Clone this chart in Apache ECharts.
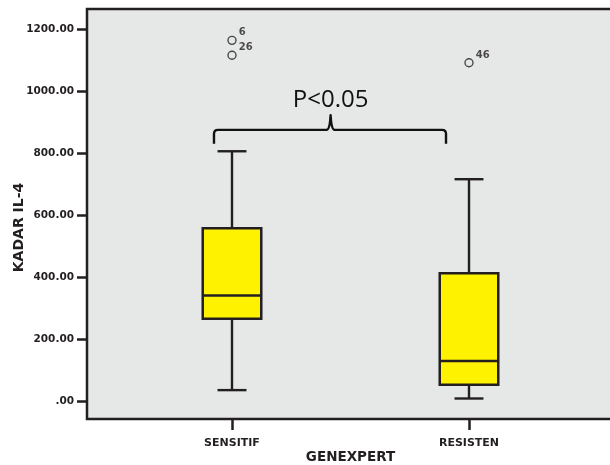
<!DOCTYPE html>
<html><head><meta charset="utf-8">
<script src="https://cdn.jsdelivr.net/npm/echarts@6/dist/echarts.min.js"></script>
<style>html,body{margin:0;padding:0;background:#fff}#c{width:610px;height:465px}</style>
</head><body><div id="c"></div>
<script>
// ---- data ----
const categories = ['SENSITIF', 'RESISTEN'];
// per category: [lower whisker, Q1, median, Q3, upper whisker]
const sensitifStats = [37, 267, 342, 558, 806];
const resistenStats = [10, 54, 131, 413, 716];
const outlierCategory = [0, 0, 1];
const outlierValues = [1163, 1115, 1091];
const outlierLabels = ['6', '26', '46'];
const yTickValues = [0, 200, 400, 600, 800, 1000, 1200];
const yTickLabels = ['.00', '200.00', '400.00', '600.00', '800.00', '1000.00', '1200.00'];
const annotationText = 'P<0.05';

// ---- styling ----
const INK = '#231f20';
const BG = '#e6e7e7';
const YELLOW = '#fff200';
const FONT = 'DejaVu Sans';
const yMin = -56, yMax = 1264;

const boxData = [sensitifStats, resistenStats].map((s, i) => [i].concat(s));
const outlierData = outlierValues.map((v, i) => [outlierCategory[i], v, outlierLabels[i]]);

function renderBox(params, api) {
  const idx = api.value(0);
  const lo = api.coord([idx, api.value(1)]);
  const q1 = api.coord([idx, api.value(2)]);
  const med = api.coord([idx, api.value(3)]);
  const q3 = api.coord([idx, api.value(4)]);
  const hi = api.coord([idx, api.value(5)]);
  const band = api.size([1, 0])[0];
  const bw = band * 0.247;
  const cw = band * 0.122;
  const x = lo[0];
  const ls = { stroke: INK, lineWidth: 2.4 };
  return {
    type: 'group',
    children: [
      { type: 'line', shape: { x1: x, y1: hi[1], x2: x, y2: q3[1] }, style: ls },
      { type: 'line', shape: { x1: x, y1: q1[1], x2: x, y2: lo[1] }, style: ls },
      { type: 'line', shape: { x1: x - cw / 2, y1: hi[1], x2: x + cw / 2, y2: hi[1] }, style: ls },
      { type: 'line', shape: { x1: x - cw / 2, y1: lo[1], x2: x + cw / 2, y2: lo[1] }, style: ls },
      { type: 'rect', shape: { x: x - bw / 2, y: q3[1], width: bw, height: q1[1] - q3[1] },
        style: { fill: YELLOW, stroke: INK, lineWidth: 2.5 } },
      { type: 'line', shape: { x1: x - bw / 2, y1: med[1], x2: x + bw / 2, y2: med[1] }, style: { stroke: INK, lineWidth: 2.5 } }
    ]
  };
}

function renderBracket(params, api) {
  const a = api.coord([0, 875]);
  const b = api.coord([1, 875]);
  const fx = t => a[0] + t * (b[0] - a[0]);
  const yLine = a[1];
  const yFoot = api.coord([0, 830])[1];
  const yTip = api.coord([0, 922])[1];
  const yText = api.coord([0, 972])[1];
  const xl = fx(-0.076), xr = fx(0.903), xc = fx(0.416);
  const r = 4;
  const p = `M${xl} ${yFoot} L${xl} ${yLine + r} Q${xl} ${yLine} ${xl + r} ${yLine} ` +
    `L${xc - 4} ${yLine} Q${xc - 0.8} ${yLine} ${xc} ${yTip} Q${xc + 0.8} ${yLine} ${xc + 4} ${yLine} ` +
    `L${xr - r} ${yLine} Q${xr} ${yLine} ${xr} ${yLine + r} L${xr} ${yFoot}`;
  return {
    type: 'group',
    children: [
      { type: 'path', shape: { pathData: p }, style: { fill: null, stroke: '#111', lineWidth: 2.4, lineJoin: 'round' } },
      { type: 'text', x: xc, y: yText,
        style: { text: annotationText, fill: '#111', font: '24px "Open Sans"', align: 'center', verticalAlign: 'middle' } }
    ]
  };
}

const chart = echarts.init(document.getElementById('c'), null, { renderer: 'canvas' });
chart.setOption({
  animation: false,
  backgroundColor: '#ffffff',
  grid: [
    { left: 87, top: 9, right: -4, bottom: 46, outerBoundsMode: 'none', containLabel: false,
      show: true, backgroundColor: BG, borderColor: INK, borderWidth: 2.5 },
    { left: 113.5, top: 9, right: 22.5, bottom: 46, outerBoundsMode: 'none', containLabel: false }
  ],
  xAxis: [
    { gridIndex: 0, type: 'value', show: false, min: 0, max: 1 },
    {
      gridIndex: 1, type: 'category', data: categories, boundaryGap: true, position: 'bottom',
      axisLine: { show: false, onZero: false },
      axisTick: { show: true, alignWithLabel: true, length: 11, lineStyle: { color: INK, width: 2.5 } },
      axisLabel: { margin: 19, color: INK, fontFamily: FONT, fontWeight: 'bold', fontSize: 11 },
      name: 'GENEXPERT', nameLocation: 'middle', nameGap: 31, nameMoveOverlap: false,
      nameTextStyle: { color: INK, fontFamily: FONT, fontWeight: 'bold', fontSize: 13.5 }
    }
  ],
  yAxis: [
    {
      gridIndex: 0, type: 'value', min: yMin, max: yMax,
      axisLine: { show: false },
      splitLine: { show: false },
      axisTick: { show: true, length: 10, lineStyle: { color: INK, width: 2.5 }, customValues: yTickValues },
      axisLabel: {
        customValues: yTickValues, margin: 13, color: INK, fontFamily: FONT, fontWeight: 'bold', fontSize: 10.5,
        formatter: v => { const i = yTickValues.indexOf(v); return i >= 0 ? yTickLabels[i] : ''; }
      },
      name: 'KADAR IL-4', nameLocation: 'middle', nameGap: 61, nameMoveOverlap: false,
      nameTextStyle: { color: INK, fontFamily: FONT, fontWeight: 'bold', fontSize: 14, padding: [0, 27, 0, 0] }
    },
    { gridIndex: 1, type: 'value', min: yMin, max: yMax, show: false, splitLine: { show: false } }
  ],
  series: [
    {
      type: 'custom', xAxisIndex: 1, yAxisIndex: 1, data: boxData, renderItem: renderBox,
      encode: { x: 0, y: [1, 2, 3, 4, 5] }, clip: false
    },
    {
      type: 'scatter', xAxisIndex: 1, yAxisIndex: 1, data: outlierData,
      symbol: 'circle', symbolSize: 8,
      itemStyle: { color: BG, borderColor: INK, borderWidth: 1.4 },
      label: {
        show: true, position: 'right', distance: 2, offset: [0, -7.5],
        formatter: p => p.data[2], color: INK, fontFamily: FONT, fontWeight: 'bold', fontSize: 10
      }
    },
    {
      type: 'custom', xAxisIndex: 1, yAxisIndex: 1, data: [[0, 875]], renderItem: renderBracket,
      encode: { x: 0, y: 1 }, clip: false, silent: true
    }
  ]
});
</script>
</body></html>
